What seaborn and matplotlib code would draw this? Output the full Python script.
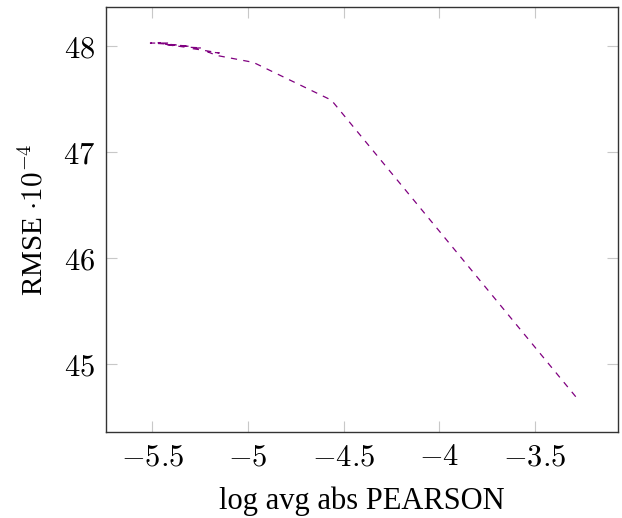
import matplotlib
matplotlib.use("Agg")
import matplotlib.pyplot as plt
import seaborn as sns
import pandas as pd

# Data (trajectory, in drawing order)
log_pearson = [-3.287, -4.564, -4.972, -5.165, -5.21, -5.15, -5.25, -5.30, -5.24,
               -5.33, -5.37, -5.30, -5.40, -5.36, -5.45, -5.51, -5.42, -5.47, -5.38, -5.44]
rmse = [44.695, 47.49, 47.846, 47.912, 47.945, 47.935, 47.965, 47.978, 47.983,
        47.99, 48.0, 47.998, 48.012, 48.008, 48.022, 48.028, 48.028, 48.03, 48.0, 48.02]

x_ticks = [-5.5, -5.0, -4.5, -4.0, -3.5]
x_tick_labels = ["$-5.5$", "$-5$", "$-4.5$", "$-4$", "$-3.5$"]
y_ticks = [45, 46, 47, 48]
y_tick_labels = ["$45$", "$46$", "$47$", "$48$"]

sns.set_theme(style="white")
plt.rcParams["font.family"] = ["Liberation Serif", "DejaVu Serif"]
plt.rcParams["mathtext.fontset"] = "cm"
plt.rcParams["text.color"] = "black"
plt.rcParams["axes.labelcolor"] = "black"
plt.rcParams["xtick.labelcolor"] = "black"
plt.rcParams["ytick.labelcolor"] = "black"

df = pd.DataFrame({"x": log_pearson, "y": rmse})

fig = plt.figure(figsize=(6.22, 5.18), dpi=100)
ax = fig.add_axes([0.1704, 0.166, 0.8232, 0.8205])

sns.lineplot(data=df, x="x", y="y", sort=False, estimator=None, ax=ax,
             color="#800080", linewidth=0.9, linestyle=(0, (5, 5)))

ax.set_xlim(-5.742, -3.066)
ax.set_ylim(44.362, 48.368)
ax.set_xticks(x_ticks)
ax.set_xticklabels(x_tick_labels)
ax.set_yticks(y_ticks)
ax.set_yticklabels(y_tick_labels)

ax.tick_params(axis="both", which="major", direction="in", length=8, width=0.8,
               color="#c8c8c8", labelsize=22, pad=8, labelcolor="black",
               top=True, right=True, bottom=True, left=True)
for s in ax.spines.values():
    s.set_color("#333333")
    s.set_linewidth(1.0)

ax.set_xlabel("log avg abs PEARSON", fontsize=22, labelpad=10, color="black")
ax.set_ylabel(r"RMSE $\cdot10^{-4}$", fontsize=21, labelpad=10, color="black")

fig.savefig("out.png", dpi=100)
